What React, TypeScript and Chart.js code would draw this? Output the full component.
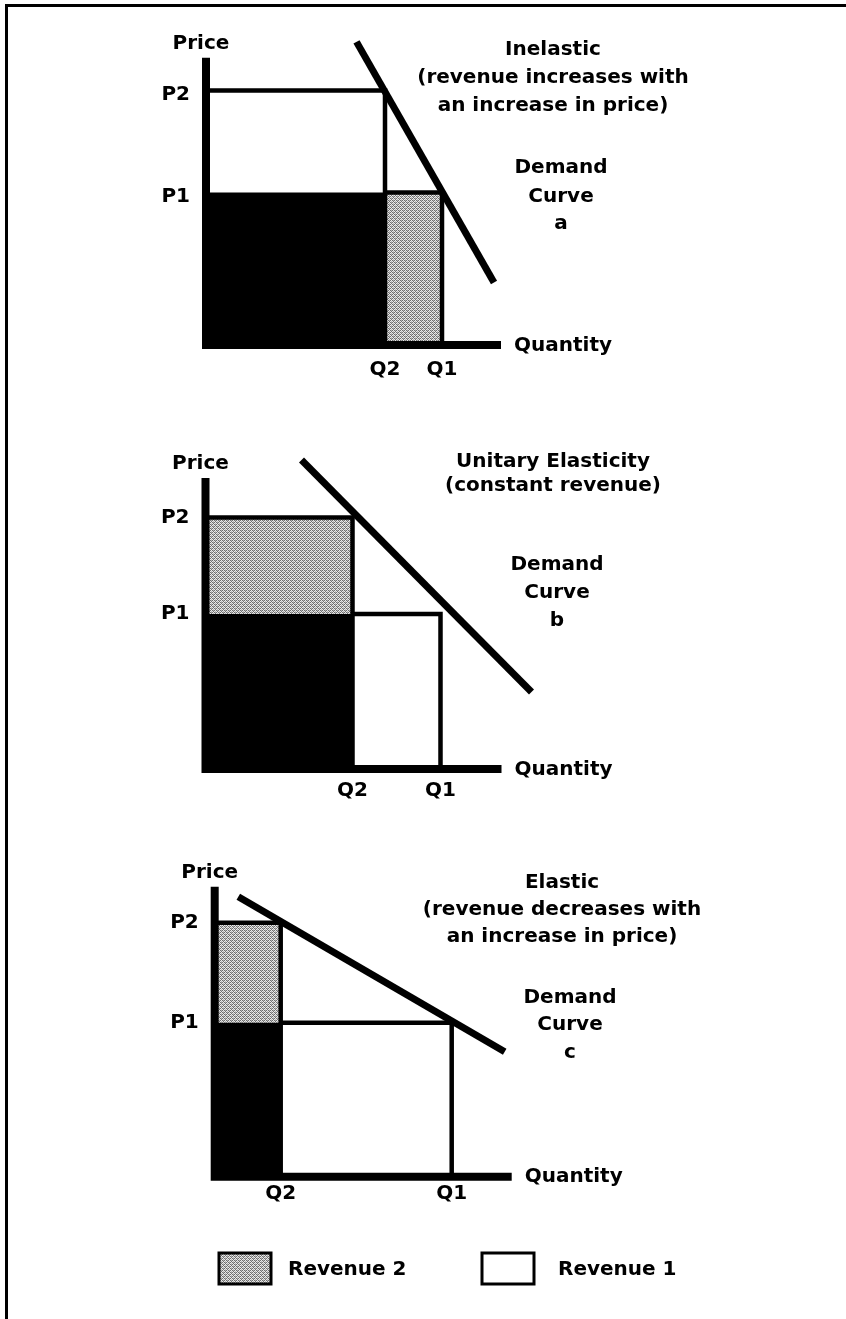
import React, { useEffect, useRef } from 'react';
import { Chart, registerables } from 'chart.js';

Chart.register(...registerables);

const FAMILY = '"DejaVu Sans", "Liberation Sans", sans-serif';
const UNIT = 10; // pixels per value unit

// ---------- Panel a : inelastic ----------
const aPriceLabels = ['P2', 'P1'];
const aPrices = [25.7, 15.4];
const aQtyLabels = ['Q2', 'Q1'];
const aQuantities = [17.9, 23.6];
const aDemandX = [15.05, 28.8];
const aDemandY = [30.6, 6.3];
const aAxisEnds = [29.5, 29.0]; // x axis end, y axis top
const aTitle = ['Inelastic', '(revenue increases with', 'an increase in price)'];
const aCurve = ['Demand', 'Curve', 'a'];

// ---------- Panel b : unitary ----------
const bPriceLabels = ['P2', 'P1'];
const bPrices = [25.15, 15.5];
const bQtyLabels = ['Q2', 'Q1'];
const bQuantities = [14.7, 23.5];
const bDemandX = [9.6, 32.6];
const bDemandY = [30.9, 7.7];
const bAxisEnds = [29.6, 29.1];
const bTitle = ['Unitary Elasticity', '(constant revenue)'];
const bCurve = ['Demand', 'Curve', 'b'];

// ---------- Panel c : elastic ----------
const cPriceLabels = ['P2', 'P1'];
const cPrices = [25.4, 15.4];
const cQtyLabels = ['Q2', 'Q1'];
const cQuantities = [6.6, 23.7];
const cDemandX = [2.36, 29.0];
const cDemandY = [28.0, 12.5];
const cAxisEnds = [29.7, 29.0];
const cTitle = ['Elastic', '(revenue decreases with', 'an increase in price)'];
const cCurve = ['Demand', 'Curve', 'c'];

// ---------- Legend ----------
const legendLabels = ['Revenue 2', 'Revenue 1'];

type Spec = {
  priceLabels: string[];
  prices: number[];
  qtyLabels: string[];
  quantities: number[];
  demandX: number[];
  demandY: number[];
  axisEnds: number[];
  title: string[];
  curve: string[];
  grayBand: 'lost' | 'gained';
  canvasTop: number;
  canvasHeight: number;
  originX: number;
  originY: number;
  xMax: number;
  yMax: number;
  xTickPad: number;
  yLabelOffset: number;
  titleX: number;
  titleBaselines: number[];
  curveX: number;
  curveBaselines: number[];
  legend?: boolean;
};

const panels: Spec[] = [
  {
    priceLabels: aPriceLabels, prices: aPrices, qtyLabels: aQtyLabels, quantities: aQuantities,
    demandX: aDemandX, demandY: aDemandY, axisEnds: aAxisEnds, title: aTitle, curve: aCurve,
    grayBand: 'lost',
    canvasTop: 0, canvasHeight: 410, originX: 206, originY: 345, xMax: 32, yMax: 32,
    xTickPad: 13, yLabelOffset: 4,
    titleX: 553, titleBaselines: [55, 83, 110.5], curveX: 561, curveBaselines: [173, 201.5, 229],
  },
  {
    priceLabels: bPriceLabels, prices: bPrices, qtyLabels: bQtyLabels, quantities: bQuantities,
    demandX: bDemandX, demandY: bDemandY, axisEnds: bAxisEnds, title: bTitle, curve: bCurve,
    grayBand: 'gained',
    canvasTop: 410, canvasHeight: 420, originX: 205.5, originY: 769, xMax: 34, yMax: 32,
    xTickPad: 10, yLabelOffset: 0,
    titleX: 553, titleBaselines: [466.5, 491], curveX: 557, curveBaselines: [570, 598, 626],
  },
  {
    priceLabels: cPriceLabels, prices: cPrices, qtyLabels: cQtyLabels, quantities: cQuantities,
    demandX: cDemandX, demandY: cDemandY, axisEnds: cAxisEnds, title: cTitle, curve: cCurve,
    grayBand: 'gained',
    canvasTop: 830, canvasHeight: 489, originX: 214.7, originY: 1176.7, xMax: 31, yMax: 31,
    xTickPad: 5, yLabelOffset: 0,
    titleX: 562, titleBaselines: [888, 915, 941.5], curveX: 570, curveBaselines: [1003, 1030, 1058],
    legend: true,
  },
];

// ordered-dither stipple texture (Bayer 4x4 threshold), mimics the printed grey screen
const BAYER = [
  [0, 8, 2, 10],
  [12, 4, 14, 6],
  [3, 11, 1, 9],
  [15, 7, 13, 5],
];

function makeStipple(): CanvasPattern | string {
  const c = document.createElement('canvas');
  c.width = 4;
  c.height = 4;
  const g = c.getContext('2d');
  if (!g) return '#bdbdbd';
  for (let y = 0; y < 4; y++) {
    for (let x = 0; x < 4; x++) {
      const v = BAYER[y][x];
      g.fillStyle = v < 6 ? '#6f6f6f' : v < 10 ? '#b4b4b4' : '#ececec';
      g.fillRect(x, y, 1, 1);
    }
  }
  const p = g.createPattern(c, 'repeat');
  return p || '#bdbdbd';
}

const boldFont = { family: FAMILY, size: 20, weight: 'bold' as const };
const fontStr = `bold 20px ${FAMILY}`;

function buildConfig(spec: Spec): any {
  const stipple = makeStipple();
  const [P2, P1] = spec.prices;
  const [Q2, Q1] = spec.quantities;
  const [xEnd, yTop] = spec.axisEnds;
  const oy = spec.originY - spec.canvasTop;
  const base = {
    pointRadius: 0,
    pointHoverRadius: 0,
    pointHitRadius: 0,
    tension: 0,
    clip: false,
    borderCapStyle: 'butt',
    borderJoinStyle: 'miter',
  };

  const blackFill = {
    ...base, label: 'common',
    data: [{ x: 0, y: P1 }, { x: Q2, y: P1 }],
    borderColor: 'rgba(0,0,0,0)', borderWidth: 0,
    backgroundColor: '#000', fill: 'origin', order: 10,
  };
  const grayFill = spec.grayBand === 'lost'
    ? {
        ...base, label: 'Revenue 2 shade',
        data: [{ x: Q2, y: P1 }, { x: Q1, y: P1 }],
        borderColor: 'rgba(0,0,0,0)', borderWidth: 0,
        backgroundColor: stipple, fill: 'origin', order: 10,
      }
    : {
        ...base, label: 'Revenue 2 shade',
        data: [{ x: 0, y: P2 }, { x: Q2, y: P2 }],
        borderColor: 'rgba(0,0,0,0)', borderWidth: 0,
        backgroundColor: stipple, fill: { value: P1 }, order: 10,
      };
  const rev2Outline = {
    ...base, label: 'Revenue 2',
    data: [{ x: 0, y: P2 }, { x: Q2, y: P2 }, { x: Q2, y: 0 }],
    borderColor: '#000', borderWidth: 4.5, fill: false, order: 5,
  };
  const rev1Outline = {
    ...base, label: 'Revenue 1',
    data: [{ x: Q2, y: P1 }, { x: Q1, y: P1 }, { x: Q1, y: 0 }],
    borderColor: '#000', borderWidth: 4.5, fill: false, order: 5,
  };
  const axes = {
    ...base, label: 'axes',
    data: [{ x: 0, y: yTop }, { x: 0, y: 0 }, { x: xEnd, y: 0 }],
    borderColor: '#000', borderWidth: 8, fill: false, order: 2,
  };
  const demand = {
    ...base, label: 'Demand',
    data: spec.demandX.map((x, i) => ({ x, y: spec.demandY[i] })),
    borderColor: '#000', borderWidth: 7, fill: false, order: 1,
  };

  const textPlugin = {
    id: 'panelText',
    afterDraw(chart: any) {
      const ctx: CanvasRenderingContext2D = chart.ctx;
      const xs = chart.scales.x;
      const ys = chart.scales.y;
      const top = spec.canvasTop;
      ctx.save();
      ctx.fillStyle = '#000';
      ctx.font = fontStr;
      ctx.textAlign = 'center';
      ctx.textBaseline = 'alphabetic';
      ctx.fillText('Price', xs.getPixelForValue(0) - 5, ys.getPixelForValue(yTop) - 9);
      ctx.textAlign = 'left';
      ctx.textBaseline = 'middle';
      ctx.fillText('Quantity', xs.getPixelForValue(xEnd) + 13, ys.getPixelForValue(0) + 0.5);
      ctx.textAlign = 'center';
      ctx.textBaseline = 'alphabetic';
      spec.title.forEach((t, i) => ctx.fillText(t, spec.titleX, spec.titleBaselines[i] - top));
      spec.curve.forEach((t, i) => ctx.fillText(t, spec.curveX, spec.curveBaselines[i] - top));
      if (spec.legend) {
        const boxes = [
          { x: 219, fill: stipple },
          { x: 482, fill: '#fff' },
        ];
        const textX = [288, 558];
        legendLabels.forEach((lab, i) => {
          const b = boxes[i];
          ctx.fillStyle = b.fill as any;
          ctx.fillRect(b.x, 1253 - top, 52, 31);
          ctx.lineWidth = 3;
          ctx.strokeStyle = '#000';
          ctx.strokeRect(b.x, 1253 - top, 52, 31);
          ctx.fillStyle = '#000';
          ctx.textAlign = 'left';
          ctx.textBaseline = 'alphabetic';
          ctx.fillText(lab, textX[i], 1275 - top);
        });
      }
      ctx.restore();
    },
  };

  return {
    type: 'line',
    data: { datasets: [blackFill, grayFill, rev2Outline, rev1Outline, axes, demand] },
    plugins: [textPlugin],
    options: {
      responsive: false,
      maintainAspectRatio: false,
      animation: false,
      devicePixelRatio: 1,
      events: [],
      layout: {
        padding: {
          left: 0,
          bottom: 0,
          top: oy - spec.yMax * UNIT,
          right: 846 - spec.originX - spec.xMax * UNIT,
        },
      },
      plugins: {
        legend: { display: false },
        tooltip: { enabled: false },
        filler: { propagate: false },
      },
      scales: {
        x: {
          type: 'linear',
          min: 0,
          max: spec.xMax,
          grid: { display: false, drawTicks: false },
          border: { display: false },
          afterBuildTicks: (s: any) => {
            s.ticks = spec.quantities.map((v) => ({ value: v }));
          },
          ticks: {
            callback: (_v: any, i: number) => spec.qtyLabels[i],
            font: boldFont,
            color: '#000',
            padding: spec.xTickPad,
            autoSkip: false,
            maxRotation: 0,
            minRotation: 0,
          },
          afterFit: (s: any) => {
            s.height = spec.canvasHeight - oy;
          },
        },
        y: {
          type: 'linear',
          min: 0,
          max: spec.yMax,
          grid: { display: false, drawTicks: false },
          border: { display: false },
          afterBuildTicks: (s: any) => {
            s.ticks = spec.prices.map((v) => ({ value: v }));
          },
          ticks: {
            callback: (_v: any, i: number) => spec.priceLabels[i],
            font: boldFont,
            color: '#000',
            padding: 16,
            labelOffset: spec.yLabelOffset,
            autoSkip: false,
          },
          afterFit: (s: any) => {
            s.width = spec.originX;
          },
        },
      },
    },
  };
}

function Panel({ spec }: { spec: Spec }) {
  const ref = useRef<HTMLCanvasElement>(null);
  useEffect(() => {
    const canvas = ref.current;
    if (!canvas) return;
    const chart = new Chart(canvas, buildConfig(spec));
    return () => chart.destroy();
  }, [spec]);
  return (
    <canvas
      ref={ref}
      width={846}
      height={spec.canvasHeight}
      style={{ position: 'absolute', left: 0, top: spec.canvasTop, width: 846, height: spec.canvasHeight }}
    />
  );
}

export default function App() {
  useEffect(() => {
    document.body.style.margin = '0';
  }, []);
  return (
    <div
      style={{
        position: 'absolute',
        left: 0,
        top: 0,
        width: 846,
        height: 1319,
        background: '#fff',
        overflow: 'hidden',
      }}
    >
      <div
        style={{
          position: 'absolute',
          left: 5,
          top: 4,
          width: 841,
          height: 1315,
          borderTop: '3px solid #000',
          borderLeft: '3px solid #000',
          boxSizing: 'border-box',
        }}
      />
      {panels.map((p, i) => (
        <Panel key={i} spec={p} />
      ))}
    </div>
  );
}
